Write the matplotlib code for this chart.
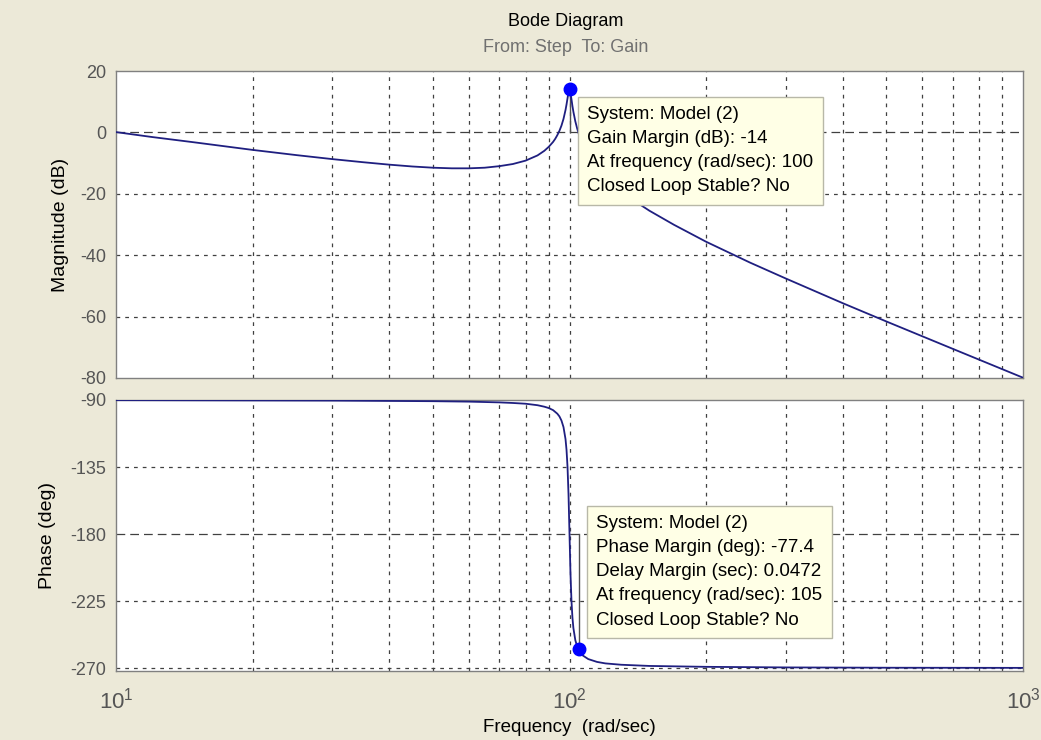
import matplotlib.pyplot as plt

# Bode data: frequency (rad/sec), magnitude (dB), phase (deg)
freq_mag = [10, 12, 15, 20, 25, 30, 35, 40, 45, 50, 55, 60, 65, 70, 75, 80, 85,
            88, 90, 92, 93, 94, 95, 96, 97, 98, 98.5, 99, 99.5, 100, 100.5,
            101, 101.5, 102, 103, 104, 105, 106, 108, 110, 115, 120, 130, 140,
            150, 170, 200, 250, 300, 400, 500, 700, 1000]
mag_db = [0.1, -1.5, -3.3, -5.7, -7.4, -8.7, -9.7, -10.5, -11.1, -11.5, -11.7,
          -11.7, -11.5, -11.0, -10.3, -9.2, -7.5, -6.0, -4.7, -3.1, -2.1, -0.9,
          0.5, 2.2, 4.4, 7.3, 9.1, 11.1, 13.1, 14.0, 12.9, 10.8, 8.6, 6.7, 3.6,
          1.2, -0.8, -2.5, -5.2, -7.3, -11.4, -14.4, -19.1, -22.6, -25.5,
          -30.1, -35.6, -42.4, -47.6, -55.6, -61.6, -70.5, -79.9]

freq_ph = [10, 30, 50, 60, 70, 75, 80, 85, 88, 90, 92, 94, 95, 96, 97, 98,
           98.5, 99, 99.5, 100, 100.5, 101, 101.5, 102, 103, 104, 105, 107,
           110, 115, 120, 130, 150, 200, 300, 500, 1000]
phase_deg = [-90.1, -90.4, -90.8, -91.1, -91.6, -92.0, -92.5, -93.5, -94.5,
             -95.4, -96.8, -99.2, -101.0, -103.8, -108.2, -116.3, -123.5,
             -134.9, -153.4, -180.0, -206.5, -224.8, -236.1, -243.2, -251.3,
             -255.7, -257.4, -261.6, -264.0, -265.9, -266.9, -267.8, -268.6,
             -269.2, -269.6, -269.8, -269.9]

# stability margins
gm_freq, gm_db = 100, 14.0
pm_freq, pm_phase = 105, -257.4

gm_text = ["System: Model (2)", "Gain Margin (dB): -14",
           "At frequency (rad/sec): 100", "Closed Loop Stable? No"]
pm_text = ["System: Model (2)", "Phase Margin (deg): -77.4",
           "Delay Margin (sec): 0.0472", "At frequency (rad/sec): 105",
           "Closed Loop Stable? No"]

bg = "#ECE9D8"
line_c = "#1F1F80"
tick_c = "#555555"
plt.rcParams['font.family'] = ['Liberation Sans', 'DejaVu Sans']
plt.rcParams['axes.unicode_minus'] = False
plt.rcParams['mathtext.fontset'] = 'custom'
plt.rcParams['mathtext.rm'] = 'Liberation Sans'

fig = plt.figure(figsize=(10.41, 7.40), dpi=100, facecolor=bg)
W, H = 1041, 740
def box(x0, y0, x1, y1):
    return [x0 / W, 1 - y1 / H, (x1 - x0) / W, (y1 - y0) / H]

ax1 = fig.add_axes(box(116, 71, 1023, 378))
ax2 = fig.add_axes(box(116, 400, 1023, 671))

minor = [k * 10 ** d for d in (1, 2) for k in range(2, 10)]
grid_kw = dict(color='#404040', lw=0.9, zorder=1)

for ax in (ax1, ax2):
    ax.set_xscale('log')
    ax.set_xlim(10, 1000)
    ax.set_facecolor('white')
    for s in ax.spines.values():
        s.set_color('#808080')
        s.set_linewidth(1.0)
    ax.tick_params(axis='both', which='both', length=0, colors=tick_c,
                   labelsize=13)
    ax.tick_params(axis='y', pad=7)
    ax.xaxis.set_minor_locator(plt.NullLocator())
    # vertical grid lines at each decade subdivision
    for f in minor + [100]:
        ax.axvline(f, ls=(0, (3, 4)), **grid_kw)

# magnitude
ax1.set_ylim(-80, 20)
ax1.set_yticks([-80, -60, -40, -20, 0, 20])
ax1.set_xticks([])
for yv in (-60, -40, -20):
    ax1.axhline(yv, ls=(0, (3, 4)), **grid_kw)
ax1.axhline(0, ls=(0, (7, 4)), **grid_kw)
ax1.plot(freq_mag, mag_db, color=line_c, lw=1.3, zorder=3)
ax1.plot([gm_freq, gm_freq], [0, gm_db], color='#505050', lw=1.0, zorder=2)
ax1.plot(gm_freq, gm_db, 'o', color='#0000FF', ms=9, zorder=4)
ax1.set_ylabel("Magnitude (dB)", fontsize=14, color='black', labelpad=8)

# phase
ax2.set_ylim(-272, -90)
ax2.set_yticks([-270, -225, -180, -135, -90])
ax2.set_xticks([10, 100, 1000])
ax2.set_xticklabels([r'$\mathregular{10^{1}}$', r'$\mathregular{10^{2}}$',
                     r'$\mathregular{10^{3}}$'], fontsize=16)
ax2.tick_params(axis='x', pad=12)
for yv in (-135, -225, -270):
    ax2.axhline(yv, ls=(0, (3, 4)), **grid_kw)
ax2.axhline(-180, ls=(0, (7, 4)), **grid_kw)
ax2.plot(freq_ph, phase_deg, color=line_c, lw=1.3, zorder=3)
ax2.plot([pm_freq, pm_freq], [-180, pm_phase], color='#505050', lw=1.0,
         zorder=2)
ax2.plot(pm_freq, pm_phase, 'o', color='#0000FF', ms=9, zorder=4)
ax2.set_ylabel("Phase (deg)", fontsize=14, color='black', labelpad=10)
ax2.set_xlabel("Frequency  (rad/sec)", fontsize=13.5, color='black',
               labelpad=4)

# data tips
tip_kw = dict(fontsize=13.5, va='top', ha='left', linespacing=1.55,
              bbox=dict(boxstyle='square,pad=0.5', fc='#FFFFE6',
                        ec='#B8B8A8', lw=1.0))
fig.text(587 / W, 1 - 106 / H, "\n".join(gm_text), **tip_kw)
fig.text(596 / W, 1 - 515 / H, "\n".join(pm_text), **tip_kw)

fig.text(566 / W, 1 - 21 / H, "Bode Diagram", ha='center', va='center',
         fontsize=13, color='black')
fig.text(566 / W, 1 - 47 / H, "From: Step  To: Gain", ha='center',
         va='center', fontsize=13, color='#707070')

fig.savefig("out.png", dpi=100, facecolor=bg)
